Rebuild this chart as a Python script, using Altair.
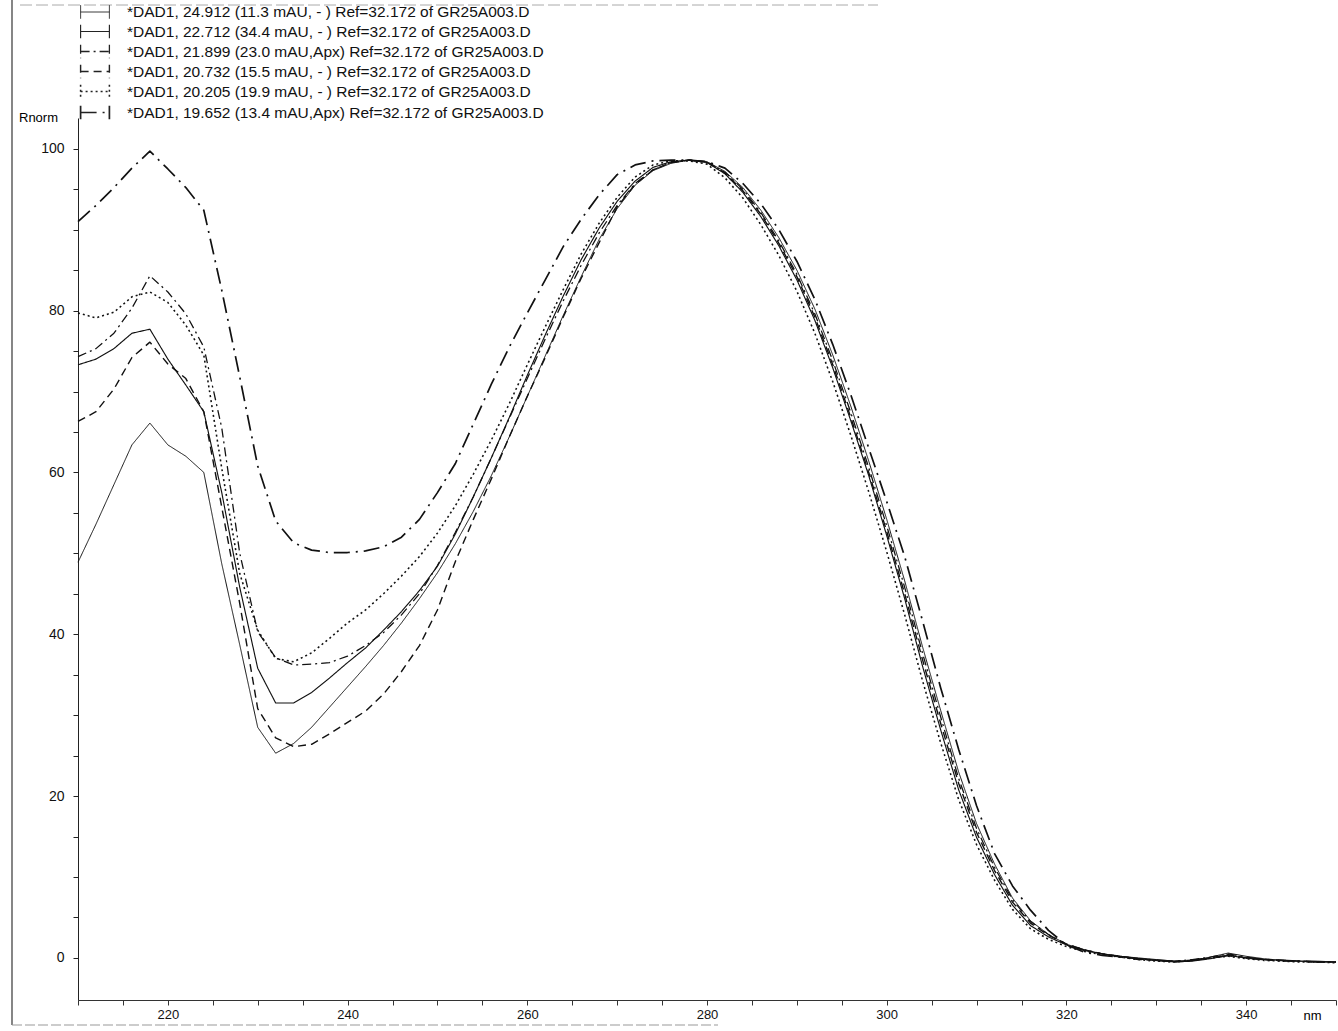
import altair as alt
import pandas as pd

WAVELENGTH_NM = [210, 212, 214, 216, 218, 220, 222, 224, 226, 228, 230, 232, 234, 236, 238, 240,
                 242, 244, 246, 248, 250, 252, 254, 256, 258, 260, 262, 264, 266, 268, 270, 272,
                 274, 276, 278, 280, 282, 284, 286, 288, 290, 292, 294, 296, 298, 300, 302, 304,
                 306, 308, 310, 312, 314, 316, 318, 320, 322, 324, 326, 328, 330, 332, 334, 336,
                 338, 340, 342, 344, 346, 348, 350]

LABELS = [
    "*DAD1, 24.912 (11.3 mAU, - ) Ref=32.172 of GR25A003.D",
    "*DAD1, 22.712 (34.4 mAU, - ) Ref=32.172 of GR25A003.D",
    "*DAD1, 21.899 (23.0 mAU,Apx) Ref=32.172 of GR25A003.D",
    "*DAD1, 20.732 (15.5 mAU, - ) Ref=32.172 of GR25A003.D",
    "*DAD1, 20.205 (19.9 mAU, - ) Ref=32.172 of GR25A003.D",
    "*DAD1, 19.652 (13.4 mAU,Apx) Ref=32.172 of GR25A003.D",
]

RN_24912 = [48.9, 53.6, 58.5, 63.4, 66.1, 63.4, 62.0, 60.0, 48.7, 38.7, 28.5, 25.3, 26.5, 28.5, 31.0, 33.5,
            36.0, 38.6, 41.4, 44.4, 47.6, 51.2, 55.2, 59.6, 64.4, 69.4, 74.4, 79.4, 84.2, 88.8, 92.6, 95.5,
            97.3, 98.2, 98.6, 98.4, 97.2, 95.2, 92.4, 89.0, 85.0, 80.2, 74.5, 68.2, 61.4, 54.2, 46.6, 38.4,
            30.6, 23.0, 16.6, 11.6, 7.4, 4.6, 2.9, 1.7, 1.0, 0.5, 0.2, 0.0, -0.2, -0.4, -0.3, 0.1,
            0.6, 0.2, -0.1, -0.3, -0.4, -0.4, -0.5]

RN_22712 = [73.3, 74.0, 75.3, 77.2, 77.7, 74.0, 70.8, 67.5, 57.5, 45.8, 35.8, 31.5, 31.5, 32.8, 34.6, 36.5,
            38.3, 40.5, 42.8, 45.4, 48.4, 52.4, 57.0, 61.8, 66.8, 72.0, 77.0, 81.8, 86.3, 90.2, 93.5, 96.0,
            97.7, 98.4, 98.6, 98.3, 96.9, 94.6, 91.6, 88.0, 83.8, 78.8, 72.9, 66.4, 59.6, 52.2, 44.4, 36.0,
            28.2, 20.8, 14.9, 10.3, 6.5, 4.0, 2.6, 1.6, 0.9, 0.5, 0.2, -0.1, -0.3, -0.5, -0.4, -0.1,
            0.3, 0.0, -0.2, -0.3, -0.4, -0.5, -0.5]

RN_21899 = [74.3, 75.3, 77.2, 80.3, 84.3, 82.3, 79.6, 75.5, 65.5, 50.0, 40.3, 37.1, 36.2, 36.3, 36.5, 37.3,
            38.6, 40.2, 42.4, 45.0, 48.5, 52.6, 57.0, 61.8, 66.7, 71.6, 76.5, 81.2, 85.6, 89.6, 93.0, 95.7,
            97.4, 98.3, 98.6, 98.3, 97.1, 95.0, 92.1, 88.6, 84.5, 79.6, 73.8, 67.4, 60.6, 53.4, 45.8, 37.6,
            29.8, 22.2, 16.0, 11.2, 7.2, 4.5, 2.9, 1.7, 1.0, 0.5, 0.1, -0.2, -0.3, -0.4, -0.2, 0.1,
            0.5, 0.1, -0.2, -0.4, -0.4, -0.5, -0.5]

RN_20732 = [66.3, 67.5, 70.3, 74.2, 76.1, 73.4, 71.6, 67.5, 55.7, 43.8, 30.8, 27.2, 26.1, 26.4, 27.7, 29.1,
            30.5, 32.6, 35.4, 38.6, 43.0, 49.0, 54.2, 59.2, 64.4, 69.4, 74.2, 79.2, 84.0, 88.4, 92.8, 95.6,
            97.4, 98.3, 98.6, 98.4, 97.0, 94.8, 91.9, 88.3, 84.2, 79.2, 73.3, 66.8, 60.0, 52.7, 45.0, 36.8,
            29.0, 21.6, 15.5, 10.8, 6.9, 4.3, 2.8, 1.7, 1.0, 0.5, 0.2, -0.1, -0.3, -0.5, -0.3, 0.0,
            0.4, 0.0, -0.2, -0.3, -0.4, -0.5, -0.5]

RN_20205 = [79.7, 79.1, 79.8, 81.7, 82.3, 81.0, 78.2, 74.5, 60.5, 47.5, 40.5, 37.0, 36.6, 37.7, 39.5, 41.4,
            43.0, 45.0, 47.2, 49.6, 52.5, 55.9, 59.8, 64.0, 68.5, 73.3, 78.0, 82.6, 87.0, 90.8, 94.0, 96.5,
            98.0, 98.5, 98.5, 98.1, 96.4, 93.9, 90.6, 86.8, 82.4, 77.2, 71.2, 64.6, 57.6, 50.2, 42.4, 34.2,
            26.6, 19.6, 14.0, 9.6, 6.0, 3.6, 2.3, 1.4, 0.8, 0.4, 0.1, -0.2, -0.4, -0.5, -0.3, 0.0,
            0.2, -0.1, -0.3, -0.4, -0.5, -0.5, -0.6]

RN_19652 = [91.0, 93.0, 95.2, 97.6, 99.7, 97.5, 95.2, 92.4, 82.5, 71.8, 60.8, 54.0, 51.3, 50.4, 50.1, 50.1,
            50.3, 50.8, 52.0, 54.2, 57.5, 61.1, 66.0, 70.9, 75.5, 79.7, 83.8, 87.9, 91.3, 94.3, 96.8, 98.0,
            98.5, 98.6, 98.6, 98.4, 97.6, 95.7, 93.2, 90.0, 86.1, 81.4, 75.8, 69.6, 63.0, 56.4, 49.6, 41.6,
            33.4, 25.8, 18.8, 12.9, 8.9, 5.9, 3.4, 1.6, 0.7, 0.3, 0.1, -0.1, -0.3, -0.4, -0.3, 0.0,
            0.3, 0.0, -0.2, -0.3, -0.4, -0.5, -0.5]

SERIES = [RN_24912, RN_22712, RN_21899, RN_20732, RN_20205, RN_19652]
DASHES = [[1, 0], [1, 0], [9, 4, 2, 4], [8, 5], [2, 3], [16, 6, 2, 6]]
WIDTHS = [1.0, 1.7, 1.3, 1.3, 1.5, 1.3]

X_TICKS = list(range(210, 351, 5))
Y_TICKS = list(range(0, 101, 5))

rows = []
for lab, vals in zip(LABELS, SERIES):
    for w, v in zip(WAVELENGTH_NM, vals):
        rows.append({"series": lab, "nm": w, "rnorm": v})
df = pd.DataFrame(rows)

FONT = "Liberation Sans"

lines = alt.Chart(df).mark_line(color="#111111", strokeJoin="round").encode(
    x=alt.X("nm:Q",
            scale=alt.Scale(domain=[210, 350], nice=False, zero=False),
            axis=alt.Axis(values=X_TICKS,
                          labelExpr="datum.value % 20 == 0 ? datum.label : ''",
                          title="nm", titleX=1234, titleY=9, titleAlign="center",
                          titleFontWeight="normal", titleFontSize=13, titleFont=FONT,
                          tickSize=5, labelPadding=3, grid=False,
                          labelFont=FONT, labelFontSize=13, labelColor="#111",
                          domainColor="#333", tickColor="#333", labelFlush=False)),
    y=alt.Y("rnorm:Q",
            scale=alt.Scale(domain=[-5.2, 103.8], nice=False, zero=False),
            axis=alt.Axis(values=Y_TICKS,
                          labelExpr="datum.value % 20 == 0 ? datum.label : ''",
                          title="Rnorm", titleAngle=0, titleX=-40, titleY=-1,
                          titleAlign="center", titleBaseline="middle",
                          titleFontWeight="normal", titleFontSize=13, titleFont=FONT,
                          tickSize=5, labelPadding=9, grid=False,
                          labelFont=FONT, labelFontSize=14, labelColor="#111",
                          domainColor="#222", tickColor="#222", labelFlush=False)),
    strokeDash=alt.StrokeDash("series:N",
                              scale=alt.Scale(domain=LABELS, range=DASHES),
                              legend=alt.Legend(orient="none", legendX=7, legendY=-115.5,
                                                title=None,
                                                symbolType="M-1.6,-0.75L-1.6,0.75M-1.6,0L1.6,0M1.6,-0.75L1.6,0.75",
                                                symbolSize=324, symbolStrokeWidth=1.1,
                                                symbolStrokeColor="#222",
                                                labelFont=FONT, labelFontSize=15.5,
                                                labelColor="#111", labelOffset=22,
                                                rowPadding=0, labelLimit=700)),
    strokeWidth=alt.StrokeWidth("series:N",
                                scale=alt.Scale(domain=LABELS, range=WIDTHS),
                                legend=None),
)

frame_df = pd.DataFrame({"k": [0]})
left_frame = alt.Chart(frame_df).mark_rule(color="#444", strokeWidth=1.3).encode(
    x=alt.value(-66), y=alt.value(-118), y2=alt.value(907))
bottom_frame = alt.Chart(frame_df).mark_rule(color="#999", strokeWidth=1, strokeDash=[10, 3]).encode(
    x=alt.value(-66), x2=alt.value(640), y=alt.value(907))
top_frame = alt.Chart(frame_df).mark_rule(color="#aaa", strokeWidth=1, strokeDash=[12, 4]).encode(
    x=alt.value(-58), x2=alt.value(800), y=alt.value(-113))

chart = alt.layer(lines, left_frame, bottom_frame, top_frame).properties(
    width=1258, height=882,
    autosize=alt.AutoSizeParams(type="none"),
    padding={"left": 78, "top": 118, "right": 2, "bottom": 31},
    background="white",
).configure_view(stroke=None)

chart.save("out.html", embed_options={"renderer": "svg", "actions": False})
